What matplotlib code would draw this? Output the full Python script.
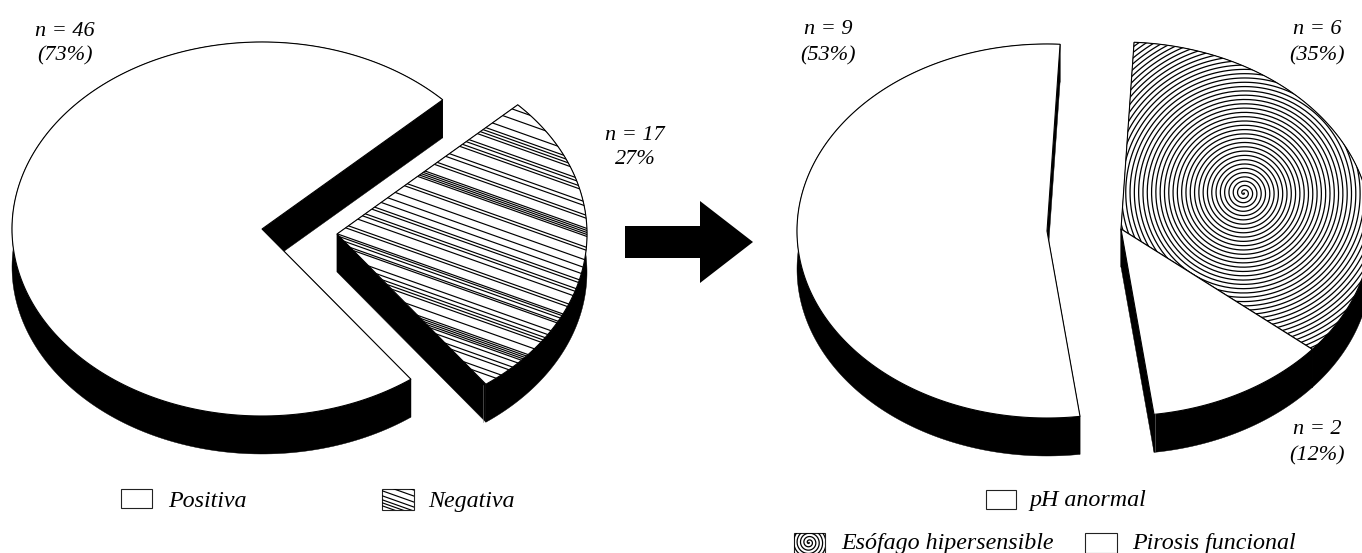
import numpy as np
import matplotlib
matplotlib.use('Agg')
import matplotlib.pyplot as plt
from matplotlib.patches import Polygon, Rectangle

plt.rcParams['font.family'] = ['Liberation Serif', 'DejaVu Serif']

# values
test_labels = ['Positiva', 'Negativa']
test_n = [46, 17]
test_pct = ['(73%)', '27%']
neg_labels = ['pH anormal', 'Esófago hipersensible', 'Pirosis funcional']
neg_n = [9, 6, 2]
neg_pct = ['(53%)', '(35%)', '(12%)']

# hatch lines of the Negativa slice, y where they cross x=487
stripe_y = [100, 110, 121, 128, 131, 134, 137, 146, 149, 153, 156, 167, 171, 180, 183,
            193, 195, 197, 199, 201, 212, 215, 225, 233, 240, 247, 250, 257, 260, 265,
            275, 278, 287, 289, 292, 296, 298, 308, 313, 317, 320, 323, 332, 340, 342,
            344, 346, 348, 352, 358, 362, 370, 375]
legend_stripe_y = [516, 522, 528, 533, 537, 540, 543]
stripe_slope = 0.355

RX, RY, DEPTH = 250, 187, 38

fig = plt.figure(figsize=(13.62, 5.53), dpi=100)
ax = fig.add_axes([0, 0, 1, 1])
ax.set_xlim(0, 1362)
ax.set_ylim(553, 0)
ax.axis('off')


def arc(cx, cy, t1, t2):
    t = np.radians(np.linspace(t1, t2, 200))
    return np.column_stack([cx + RX * np.cos(t), cy - RY * np.sin(t)])


def slice3d(cx, cy, t1, t2, z=1):
    # t1 -> t2 in degrees, black wall below the white top
    top = arc(cx, cy, t1, t2)
    low = top + [0, DEPTH]
    c = np.array([[cx, cy]])
    ax.add_patch(Polygon(np.vstack([top, low[::-1]]), fc='black', ec='black', lw=0.3, zorder=z))
    for p in (top[0], top[-1]):
        wall = np.array([[cx, cy], p, p + [0, DEPTH], [cx, cy + DEPTH]])
        ax.add_patch(Polygon(wall, fc='black', ec='black', lw=0.3, zorder=z))
    face = Polygon(np.vstack([c, top]), closed=True, fc='white', ec='black', lw=0.8, zorder=z + 0.5)
    ax.add_patch(face)
    return face


def stripes(x0, x1, ys, clip, z):
    for y in ys:
        ln, = ax.plot([x0, x1], [y + stripe_slope * (x0 - 487), y + stripe_slope * (x1 - 487)],
                      color='black', lw=0.85, zorder=z)
        ln.set_clip_path(clip)


def spiral(cx, cy, rmax, step, clip, z, lw=0.9):
    th = np.linspace(0, 2 * np.pi * rmax / step, 12000)
    r = step * th / (2 * np.pi)
    ln, = ax.plot(cx + r * np.cos(th), cy + r * np.sin(th), color='black', lw=lw, zorder=z)
    ln.set_clip_path(clip)


# left pie
start = 43.7
sweep_neg = 360 * test_n[1] / sum(test_n)
slice3d(262, 229, start, start + 360 - sweep_neg, 1)
face = slice3d(337, 234, start - sweep_neg, start, 3)
stripes(337, 600, stripe_y, face, 4)
ax.plot([483, 483], [384.5, 422], color='#777777', lw=0.4, zorder=5)

# right pie
start = 87
total = sum(neg_n)
a_hip = 360 * neg_n[1] / total
a_pir = 360 * neg_n[2] / total
slice3d(1047, 231, start, start + 360 * neg_n[0] / total, 1)
face = slice3d(1121, 229, start - a_hip, start, 3)
spiral(1244, 193, 270, 4.3, face, 4)
slice3d(1121, 229, start - a_hip - a_pir, start - a_hip, 5)
ax.plot([1155, 1155], [414, 451], color='#777777', lw=0.4, zorder=7)

# arrow
ax.add_patch(Polygon([[625, 226], [700, 226], [700, 201], [753, 242], [700, 283], [700, 258], [625, 258]],
                     fc='black', ec='none'))

# labels
fs = 16
for x, y, s in [(65, 32, f'n = {test_n[0]}'), (65, 56, test_pct[0]),
                (635, 135, f'n = {test_n[1]}'), (635, 160, test_pct[1]),
                (828, 29, f'n = {neg_n[0]}'), (828, 56, neg_pct[0]),
                (1317, 30, f'n = {neg_n[1]}'), (1317, 56, neg_pct[1]),
                (1317, 430, f'n = {neg_n[2]}'), (1317, 456, neg_pct[2])]:
    ax.text(x, y, s, ha='center', va='center', style='italic', fontsize=fs)


# legends
def box(x0, y0, w, h, label, tx, base):
    r = Rectangle((x0, y0), w, h, fc='white', ec='#222222', lw=0.8, zorder=8)
    ax.add_patch(r)
    ax.text(tx, base, label, ha='left', va='baseline', style='italic', fontsize=17.3, zorder=9)
    return r


box(120.5, 488.5, 31.5, 19.5, test_labels[0], 168, 507)
r = box(382, 489, 32, 20.5, test_labels[1], 428, 507)
stripes(382, 414, legend_stripe_y, r, 9)
box(986, 489.5, 30, 19, neg_labels[0], 1029, 506)
r = box(793.5, 533, 31.5, 19.5, neg_labels[1], 841, 549)
spiral(809, 542.5, 22, 3.4, r, 9)
box(1085, 533, 32, 19.5, neg_labels[2], 1132, 549)

fig.savefig('out.png', dpi=100)
